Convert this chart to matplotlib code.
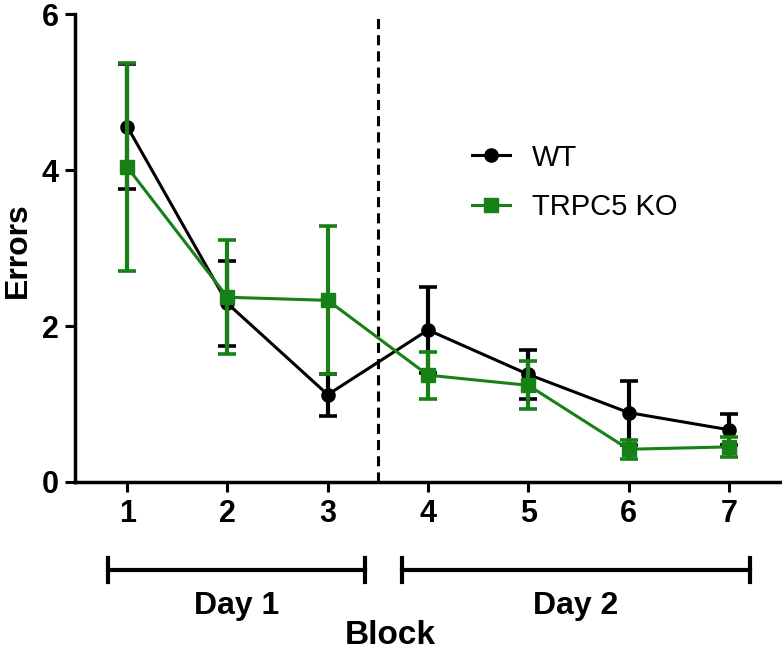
import numpy as np
import matplotlib
matplotlib.use("Agg")
import matplotlib.pyplot as plt
from matplotlib.lines import Line2D

matplotlib.rcParams['font.family'] = ['Liberation Sans', 'DejaVu Sans']

blocks = [1, 2, 3, 4, 5, 6, 7]
wt_mean = [4.56, 2.29, 1.12, 1.95, 1.38, 0.89, 0.67]
wt_err = [0.80, 0.55, 0.27, 0.55, 0.31, 0.41, 0.20]
ko_mean = [4.04, 2.37, 2.33, 1.37, 1.24, 0.42, 0.45]
ko_err = [1.33, 0.73, 0.95, 0.30, 0.31, 0.12, 0.13]

days = ["Day 1", "Day 2"]
day_spans = [(0.81, 3.37), (3.74, 7.21)]

green = '#178017'

fig = plt.figure(figsize=(7.82, 6.5), dpi=100)
ax = fig.add_axes([0.096, 0.2585, 0.904, 0.7195])

ax.errorbar(blocks, wt_mean, yerr=wt_err, color='black', marker='o', markersize=9.5,
            linewidth=2.2, elinewidth=3, capsize=6.5, capthick=2.6, zorder=3)
ax.errorbar(blocks, ko_mean, yerr=ko_err, color=green, marker='s', markersize=9.5,
            linewidth=2.2, elinewidth=3, capsize=6.5, capthick=2.6, zorder=4)

ax.axvline(3.5, color='black', linestyle=(0, (3.3, 2)), linewidth=2.2, zorder=1)

ax.set_xlim(0.48, 7.53)
ax.set_ylim(0, 6)
ax.set_yticks([0, 2, 4, 6])
ax.set_xticks(blocks)
for s in ['top', 'right']:
    ax.spines[s].set_visible(False)
for s in ['left', 'bottom']:
    ax.spines[s].set_linewidth(2.5)
ax.tick_params(width=2.2, length=7, labelsize=22, pad=5)
for lab in ax.get_xticklabels() + ax.get_yticklabels():
    lab.set_fontweight('bold')

ax.set_ylabel('Errors', fontsize=23, fontweight='bold', va='center')
ax.yaxis.set_label_coords(-0.081, 0.496)

# day brackets under the axis
trans = ax.get_xaxis_transform()
for name, (x0, x1) in zip(days, day_spans):
    y = -0.188
    ax.plot([x0, x1], [y, y], color='black', linewidth=3, transform=trans, clip_on=False)
    for xe in (x0, x1):
        ax.plot([xe, xe], [y - 0.026, y + 0.026], color='black', linewidth=3,
                transform=trans, clip_on=False)
    ax.text((x0 + x1) / 2, -0.265, name, transform=trans, ha='center', va='center',
            fontsize=23, fontweight='bold')

fig.text(0.499, 0.022, 'Block', ha='center', va='center', fontsize=24, fontweight='bold')

handles = [Line2D([], [], color='black', marker='o', markersize=9.5, linewidth=2.2),
           Line2D([], [], color=green, marker='s', markersize=9.5, linewidth=2.2)]
ax.legend(handles, ['WT', 'TRPC5 KO'], loc='center left', bbox_to_anchor=(0.5615, 0.641),
          frameon=False, fontsize=21, handlelength=1.3, labelspacing=0.73,
          handletextpad=0.75, borderpad=0, borderaxespad=0)

fig.savefig('out.png', dpi=100)
